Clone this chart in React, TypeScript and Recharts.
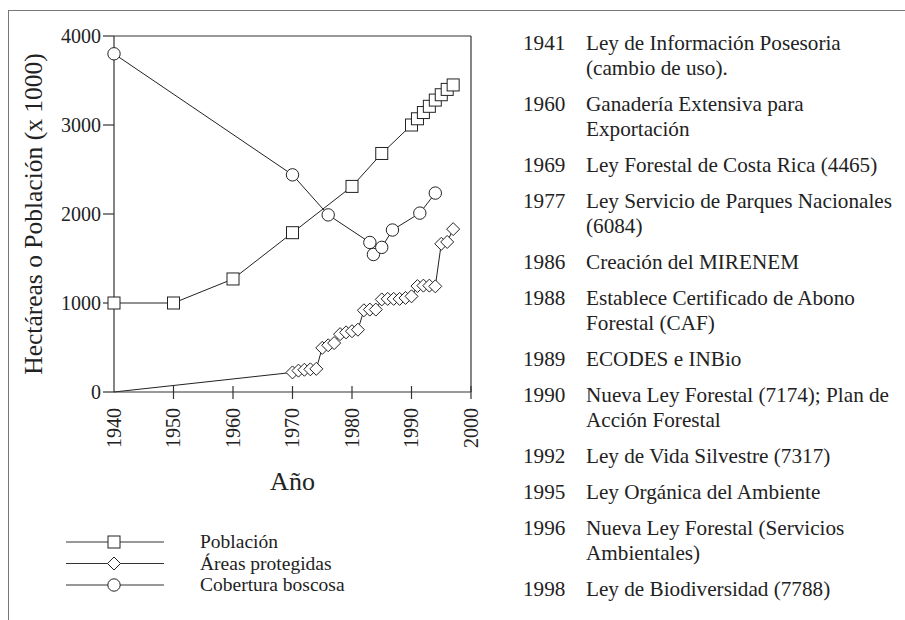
import { LineChart, Line, XAxis, YAxis, ReferenceLine, Label } from 'recharts'

const FONT = '"Liberation Serif", "DejaVu Serif", serif'
const INK = '#222'

const yearTicks = [1940, 1950, 1960, 1970, 1980, 1990, 2000]
const valueTicks = [0, 1000, 2000, 3000, 4000]

// Población (x 1000)
const poblacionYears = [1940, 1950, 1960, 1970, 1980, 1985, 1990, 1991, 1992, 1993, 1994, 1995, 1996, 1997]
const poblacionValues = [1000, 1000, 1270, 1790, 2310, 2680, 3000, 3070, 3140, 3210, 3280, 3340, 3400, 3450]

// Áreas protegidas (ha x 1000); the 1940 start point has no marker
const areasYears = [
  1940, 1970, 1971, 1972, 1973, 1974, 1975, 1976, 1977, 1978, 1979, 1980, 1981, 1982, 1983, 1984,
  1985, 1986, 1987, 1988, 1989, 1990, 1991, 1992, 1993, 1994, 1995, 1996, 1997,
]
const areasValues = [
  0, 220, 240, 250, 255, 260, 496, 525, 550, 650, 670, 683, 700, 918, 926, 926,
  1040, 1046, 1046, 1046, 1057, 1075, 1190, 1195, 1195, 1187, 1665, 1686, 1830,
]

// Cobertura boscosa (ha x 1000)
const coberturaYears = [1940, 1970, 1976, 1983, 1983.6, 1985, 1986.8, 1991.4, 1994]
const coberturaValues = [3800, 2440, 1990, 1680, 1545, 1625, 1820, 2010, 2235]

const eventYears = ['1941', '1960', '1969', '1977', '1986', '1988', '1989', '1990', '1992', '1995', '1996', '1998']
const eventTexts = [
  ['Ley de Información Posesoria', '(cambio de uso).'],
  ['Ganadería Extensiva para', 'Exportación'],
  ['Ley Forestal de Costa Rica (4465)'],
  ['Ley Servicio de Parques Nacionales', '(6084)'],
  ['Creación del MIRENEM'],
  ['Establece Certificado de Abono', 'Forestal (CAF)'],
  ['ECODES e INBio'],
  ['Nueva Ley Forestal (7174); Plan de', 'Acción Forestal'],
  ['Ley de Vida Silvestre (7317)'],
  ['Ley Orgánica del Ambiente'],
  ['Nueva Ley Forestal (Servicios', 'Ambientales)'],
  ['Ley de Biodiversidad (7788)'],
]

const legendNames = ['Población', 'Áreas protegidas', 'Cobertura boscosa']

function toPoints(years: number[], values: number[]) {
  return years.map((year, i) => ({ year, value: values[i] }))
}

const poblacion = toPoints(poblacionYears, poblacionValues)
const areas = toPoints(areasYears, areasValues)
const cobertura = toPoints(coberturaYears, coberturaValues)

function Marker({ kind, cx, cy }: { kind: string; cx: number; cy: number }) {
  if (kind === 'square') {
    return <rect x={cx - 6} y={cy - 6} width={12} height={12} fill="#fff" stroke={INK} strokeWidth={1} />
  }
  if (kind === 'diamond') {
    const r = 6.5
    return (
      <polygon
        points={`${cx},${cy - r} ${cx + r},${cy} ${cx},${cy + r} ${cx - r},${cy}`}
        fill="#fff"
        stroke={INK}
        strokeWidth={1}
      />
    )
  }
  return <circle cx={cx} cy={cy} r={6.2} fill="#fff" stroke={INK} strokeWidth={1} />
}

const dotOf = (kind: string, skipFirst = false) => (p: any) =>
  p.cx == null || (skipFirst && p.index === 0) ? (
    <g key={`${kind}-${p.index}`} />
  ) : (
    <Marker key={`${kind}-${p.index}`} kind={kind} cx={p.cx} cy={p.cy} />
  )

function XTick(props: any) {
  const { x, y, payload } = props
  return (
    <g>
      {payload.value !== 1940 && <line x1={x} x2={x} y1={y - 6} y2={y + 7} stroke="#333" strokeWidth={1.2} />}
      <text
        x={x}
        y={y + 16}
        dy="0.34em"
        transform={`rotate(-90 ${x} ${y + 16})`}
        textAnchor="end"
        fill={INK}
        fontSize={20}
        style={{ fontFamily: FONT }}
      >
        {payload.value}
      </text>
    </g>
  )
}

function XTitle(props: any) {
  const vb = props.viewBox
  return (
    <text x={vb.x + vb.width / 2} y={vb.y + 98} textAnchor="middle" fill={INK} fontSize={26} style={{ fontFamily: FONT }}>
      Año
    </text>
  )
}

function YTitle(props: any) {
  const vb = props.viewBox
  const cx = 42
  const cy = vb.y + vb.height / 2
  return (
    <text
      x={cx}
      y={cy}
      transform={`rotate(-90 ${cx} ${cy})`}
      textAnchor="middle"
      fill={INK}
      fontSize={25.5}
      style={{ fontFamily: FONT }}
    >
      Hectáreas o Población (x 1000)
    </text>
  )
}

function EventList() {
  let base = 50
  const rows: any[] = []
  eventYears.forEach((yr, i) => {
    eventTexts[i].forEach((line, j) => {
      rows.push(
        <g key={`${yr}-${j}`}>
          {j === 0 && (
            <text x={523} y={base} fontSize={21.2}>
              {yr}
            </text>
          )}
          <text x={586} y={base} fontSize={21.2}>
            {line}
          </text>
        </g>
      )
      base += j < eventTexts[i].length - 1 ? 25 : 0
    })
    base += 36
  })
  return <>{rows}</>
}

function LegendBox() {
  const kinds = ['square', 'diamond', 'circle']
  return (
    <>
      {legendNames.map((name, i) => {
        const cy = 542 + i * 21.5
        return (
          <g key={name}>
            <line x1={66} x2={164} y1={cy} y2={cy} stroke="#333" strokeWidth={1.2} />
            <Marker kind={kinds[i]} cx={114} cy={cy} />
            <text x={200} y={cy + 6} fontSize={19.5}>
              {name}
            </text>
          </g>
        )
      })}
    </>
  )
}

export default function App() {
  return (
    <div style={{ position: 'absolute', left: 0, top: 0, width: 905, height: 620, background: '#fff', overflow: 'hidden' }}>
      <div
        style={{
          position: 'absolute',
          left: 8,
          top: 10,
          width: 920,
          height: 640,
          borderLeft: '1.5px solid #777',
          borderTop: '1.5px solid #777',
        }}
      />
      <div style={{ position: 'absolute', left: 0, top: 0 }}>
        <LineChart width={490} height={500} margin={{ top: 36, right: 19, bottom: 0, left: 0 }}>
          <XAxis
            type="number"
            dataKey="year"
            domain={[1940, 2000]}
            ticks={yearTicks}
            height={108}
            stroke="#333"
            strokeWidth={1.2}
            tickLine={false}
            tickSize={0}
            tickMargin={0}
            tick={<XTick />}
          >
            <Label content={<XTitle />} />
          </XAxis>
          <YAxis
            type="number"
            dataKey="value"
            domain={[0, 4000]}
            ticks={valueTicks}
            width={114}
            stroke="#333"
            strokeWidth={1.2}
            tickSize={11}
            tickMargin={2}
            tick={{ fill: INK, fontSize: 20, fontFamily: FONT }}
          >
            <Label content={<YTitle />} />
          </YAxis>
          <ReferenceLine y={4000} stroke="#333" strokeWidth={1.2} />
          <ReferenceLine x={2000} stroke="#333" strokeWidth={1.2} />
          <Line data={poblacion} dataKey="value" stroke={INK} strokeWidth={1} dot={dotOf('square')} isAnimationActive={false} />
          <Line data={areas} dataKey="value" stroke={INK} strokeWidth={1} dot={dotOf('diamond', true)} isAnimationActive={false} />
          <Line data={cobertura} dataKey="value" stroke={INK} strokeWidth={1} dot={dotOf('circle')} isAnimationActive={false} />
        </LineChart>
      </div>
      <svg
        width={905}
        height={620}
        style={{ position: 'absolute', left: 0, top: 0, pointerEvents: 'none', fontFamily: FONT }}
        fill={INK}
      >
        <EventList />
        <LegendBox />
      </svg>
    </div>
  )
}
